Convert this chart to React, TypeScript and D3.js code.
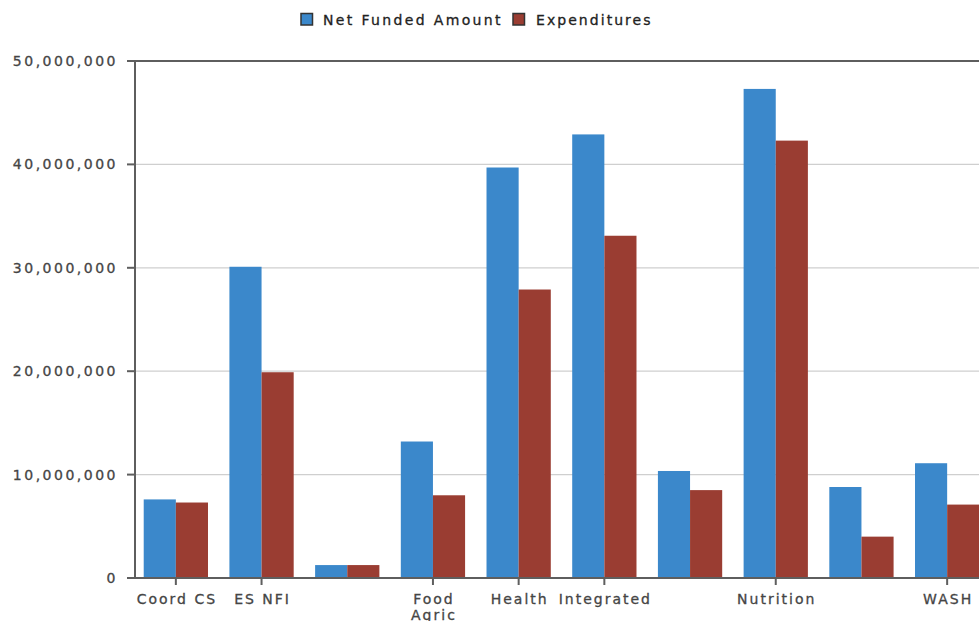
import { useMemo } from "react";
import * as d3 from "d3";

const WIDTH = 979;
const HEIGHT = 621;

// tick labels, blank ones were skipped by the original chart
const categories = [
  "Coord CS",
  "ES NFI",
  "",
  "Food Agric",
  "Health",
  "Integrated",
  "",
  "Nutrition",
  "",
  "WASH",
];

const seriesNames = ["Net Funded Amount", "Expenditures"];
const seriesColors = ["#3b88cb", "#9a3d32"];

const netFunded = [7.6e6, 30.1e6, 1.25e6, 13.2e6, 39.7e6, 42.9e6, 10.35e6, 47.3e6, 8.8e6, 11.1e6];
const expenditures = [7.3e6, 19.9e6, 1.25e6, 8.0e6, 27.9e6, 33.1e6, 8.5e6, 42.3e6, 4.0e6, 7.1e6];

const yTicks = [0, 10e6, 20e6, 30e6, 40e6, 50e6];

const FONT = "'DejaVu Sans', Verdana, sans-serif";
const TEXT_COLOR = "#454545";
const AXIS_COLOR = "#5e5e5e";

export default function App() {
  const values = [netFunded, expenditures];

  const xScale = useMemo(
    () =>
      d3
        .scaleBand<number>()
        .domain(categories.map((_, i) => i))
        .range([133, 990])
        .paddingInner(0.25)
        .paddingOuter(0.125),
    []
  );

  const subScale = useMemo(
    () =>
      d3
        .scaleBand<number>()
        .domain(seriesNames.map((_, i) => i))
        .range([0, xScale.bandwidth()]),
    [xScale]
  );

  const yScale = useMemo(
    () => d3.scaleLinear().domain([0, 50e6]).range([578, 61]),
    []
  );

  const fmt = d3.format(",");
  const axisX = 135;

  const center = (i: number) => (xScale(i) ?? 0) + xScale.bandwidth() / 2;

  return (
    <svg
      width={WIDTH}
      height={HEIGHT}
      style={{ position: "absolute", left: 0, top: 0, background: "#fff" }}
      fontFamily={FONT}
    >
      {/* grid */}
      {yTicks.map((t) => (
        <g key={t}>
          {t > 0 && t < 50e6 && (
            <line
              x1={axisX}
              x2={WIDTH}
              y1={yScale(t)}
              y2={yScale(t)}
              stroke="#cfcfcf"
              strokeWidth={1.2}
            />
          )}
          <line
            x1={127}
            x2={axisX}
            y1={yScale(t)}
            y2={yScale(t)}
            stroke={AXIS_COLOR}
            strokeWidth={2}
          />
          <text
            x={118}
            y={yScale(t)}
            textAnchor="end"
            dominantBaseline="central"
            fontSize={14}
            letterSpacing={2.5}
            fill={TEXT_COLOR}
            stroke={TEXT_COLOR}
            strokeWidth={0.3}
          >
            {fmt(t)}
          </text>
        </g>
      ))}

      {/* bars */}
      {categories.map((_, i) => (
        <g key={i} transform={`translate(${xScale(i)},0)`}>
          {values.map((vals, s) => (
            <rect
              key={s}
              x={subScale(s)}
              y={yScale(vals[i])}
              width={subScale.bandwidth()}
              height={yScale(0) - yScale(vals[i])}
              fill={seriesColors[s]}
            />
          ))}
        </g>
      ))}

      {/* top border */}
      <line x1={axisX} x2={WIDTH} y1={yScale(50e6)} y2={yScale(50e6)} stroke={AXIS_COLOR} strokeWidth={2} />
      {/* axes */}
      <line x1={axisX} x2={axisX} y1={yScale(50e6) - 1} y2={yScale(0)} stroke={AXIS_COLOR} strokeWidth={2} />
      <line x1={127} x2={WIDTH} y1={yScale(0)} y2={yScale(0)} stroke={AXIS_COLOR} strokeWidth={2} />

      {/* x ticks and labels */}
      {categories.map((c, i) =>
        c === "" ? null : (
          <g key={i}>
            <line
              x1={center(i)}
              x2={center(i)}
              y1={yScale(0)}
              y2={yScale(0) + 7}
              stroke={AXIS_COLOR}
              strokeWidth={2}
            />
            <text
              x={center(i)}
              y={599}
              textAnchor="middle"
              dominantBaseline="central"
              fontSize={14}
              letterSpacing={2.0}
              fill={TEXT_COLOR}
              stroke={TEXT_COLOR}
              strokeWidth={0.3}
            >
              {(c === "Food Agric" ? c.split(" ") : [c]).map((part, k) => (
                <tspan key={k} x={center(i) + 1} dy={k === 0 ? 0 : 16}>
                  {part}
                </tspan>
              ))}
            </text>
          </g>
        )
      )}

      {/* legend */}
      <g>
        <rect x={301} y={13.5} width={11.5} height={11.5} fill={seriesColors[0]} stroke="#333" strokeWidth={1.5} />
        <text x={323} y={19.5} dominantBaseline="central" fontSize={14} letterSpacing={2.35} fill="#222" stroke="#222" strokeWidth={0.3}>
          {seriesNames[0]}
        </text>
        <rect x={513} y={13.5} width={11.5} height={11.5} fill={seriesColors[1]} stroke="#333" strokeWidth={1.5} />
        <text x={536} y={19.5} dominantBaseline="central" fontSize={14} letterSpacing={2.05} fill="#222" stroke="#222" strokeWidth={0.3}>
          {seriesNames[1]}
        </text>
      </g>
    </svg>
  );
}
